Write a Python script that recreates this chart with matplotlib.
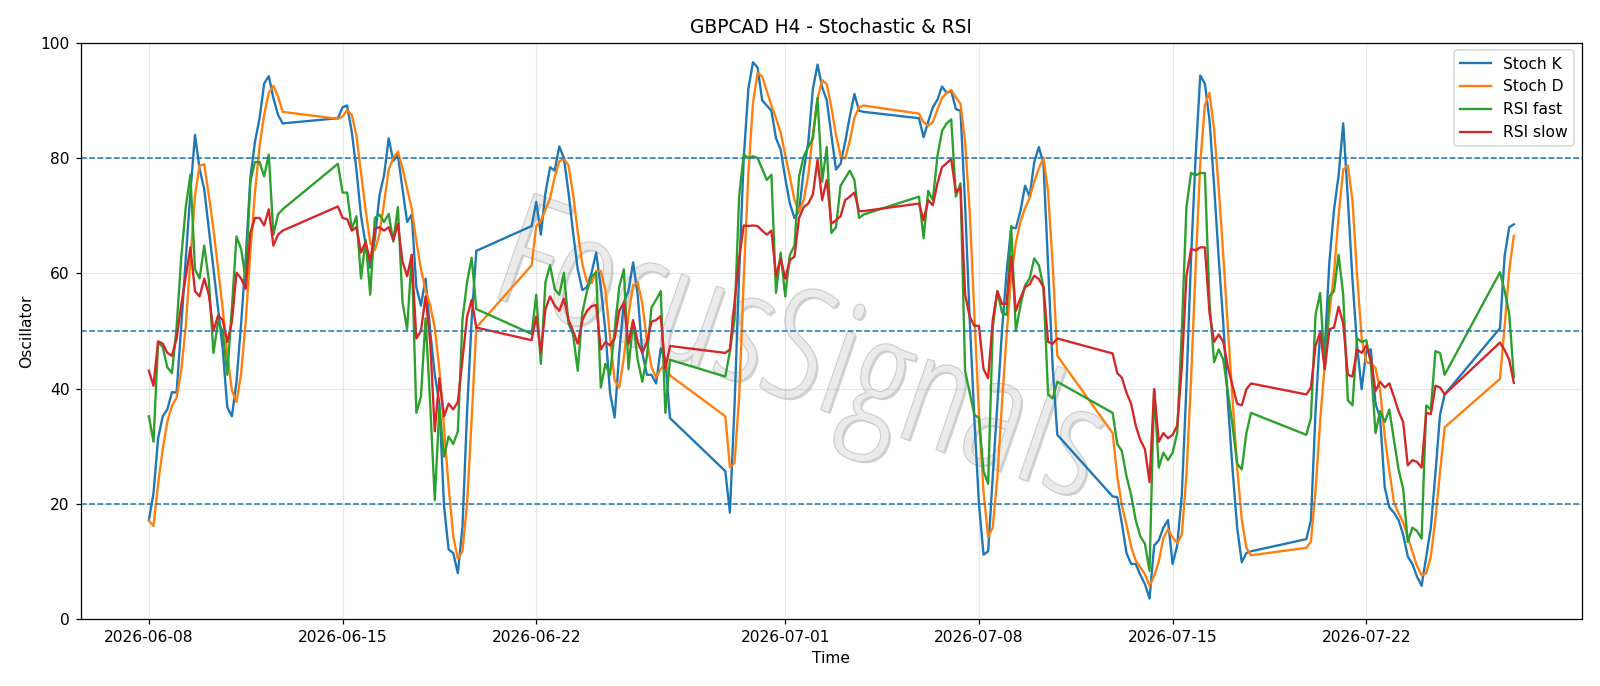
import matplotlib
matplotlib.use("Agg")
import matplotlib.pyplot as plt
import matplotlib.patheffects as pe
from matplotlib import font_manager as fm
import pandas as pd

# H4 bars: Mon-Fri plus the Sunday 20:00 opening bar
times = pd.date_range("2026-06-08 00:00", "2026-07-27 08:00", freq="4h")
times = times[(times.dayofweek < 5) | ((times.dayofweek == 6) & (times.hour == 20))]

stoch_k = [
    17.2, 21.9, 31.4, 35.2, 36.4, 39.4, 39.3, 50.6, 62.6, 74.0, 84.0, 78.1, 74.6, 67.7, 60.7,
    54.0, 47.0, 36.8, 35.2, 41.2, 51.3, 62.6, 76.5, 82.8, 86.9, 92.9, 94.2, 90.4, 87.5, 86.0,
    86.9, 88.8, 89.1, 84.5, 78.0, 70.0, 65.0, 61.0, 66.0, 73.5, 77.0, 83.4, 79.5, 80.5, 74.6, 68.9,
    70.2, 57.6, 54.4, 59.1, 50.0, 42.4, 37.4, 19.7, 12.1, 11.5, 8.0, 16.0, 36.0, 52.0, 63.9,
    68.2, 72.4, 66.7, 74.0, 78.4, 77.8, 82.0, 80.0, 74.0, 67.0, 60.7, 57.1, 57.6, 60.1, 63.6, 57.6,
    50.0, 39.3, 35.0, 46.2, 55.0, 56.9, 61.9, 56.3, 46.2, 42.4, 42.4, 40.9, 47.0, 45.0, 34.9,
    25.7, 18.5, 37.0, 60.0, 80.0, 92.0, 96.6, 95.7, 90.0, 89.1, 88.2, 83.4, 81.5, 76.5, 72.1, 69.6,
    70.8, 77.8, 82.8, 92.0, 96.2, 92.3, 90.0, 84.0, 78.0, 79.0, 82.8, 87.2, 91.1, 88.2, 88.0,
    86.9, 83.6, 86.3, 88.8, 90.1, 92.4, 91.3, 91.6, 88.5, 88.2, 72.0, 52.0, 35.0, 20.0, 11.2, 11.8,
    24.8, 37.4, 50.0, 60.1, 68.0, 67.8, 70.8, 75.2, 73.3, 79.3, 81.9, 79.0, 61.4, 43.7, 32.0,
    21.3, 21.2, 16.6, 11.5, 9.6, 9.6, 7.7, 6.1, 3.6, 12.8, 13.7, 15.9, 17.2, 9.6, 12.8, 21.6,
    40.5, 62.6, 80.3, 94.3, 92.9, 86.6, 75.2, 62.6, 51.3, 37.4, 26.0, 15.9, 9.9, 11.5, 11.8,
    13.9, 17.2, 36.0, 50.0, 47.0, 62.0, 71.0, 77.0, 86.0, 73.0, 59.0, 47.5, 39.9, 46.5, 46.8, 37.4,
    34.9, 22.9, 19.4, 18.5, 17.2, 14.7, 10.9, 9.6, 7.4, 5.8, 10.9, 15.9, 25.4, 35.5, 39.0,
    50.5, 63.0, 68.0, 68.5,
]

stoch_d = [
    17.1, 16.2, 23.5, 29.5, 34.3, 37.0, 38.4, 43.1, 50.8, 62.4, 73.5, 78.7, 78.9, 73.5, 67.7,
    60.8, 53.9, 46.0, 39.7, 37.7, 42.6, 51.7, 63.5, 74.0, 82.1, 87.5, 91.3, 92.5, 90.7, 88.0,
    86.8, 87.2, 88.3, 87.5, 83.9, 77.5, 71.0, 65.3, 64.0, 66.8, 72.2, 78.0, 80.0, 81.1, 78.2, 74.7,
    71.2, 65.6, 60.7, 57.0, 54.5, 50.5, 43.3, 33.2, 23.1, 14.4, 10.5, 11.8, 20.0, 34.7, 50.6,
    61.4, 68.2, 69.1, 71.0, 73.0, 76.7, 79.4, 79.9, 78.7, 73.7, 67.2, 61.6, 58.5, 58.3, 60.4, 60.4,
    57.1, 49.0, 41.4, 40.2, 45.4, 52.7, 57.9, 58.4, 54.8, 48.3, 43.7, 41.9, 43.4, 44.3, 42.3,
    35.2, 26.4, 27.1, 38.5, 59.0, 77.3, 89.5, 94.8, 94.1, 91.6, 89.1, 86.9, 84.4, 80.5, 76.7, 72.7,
    70.8, 72.7, 77.1, 84.2, 90.3, 93.5, 92.8, 88.8, 84.0, 80.3, 79.9, 83.0, 87.0, 88.8, 89.1,
    87.7, 86.2, 85.6, 86.2, 88.4, 90.4, 91.3, 91.8, 90.5, 89.4, 82.9, 70.7, 53.0, 35.7, 22.1, 14.3,
    15.9, 24.7, 37.4, 49.2, 59.4, 65.3, 68.9, 71.3, 73.1, 75.9, 78.2, 80.1, 74.1, 61.4, 45.7,
    32.3, 24.8, 19.7, 16.4, 12.6, 10.2, 9.0, 7.8, 5.8, 7.5, 10.0, 14.1, 15.6, 14.2, 13.2, 14.7,
    25.0, 41.6, 61.1, 79.1, 89.2, 91.3, 84.9, 74.8, 63.0, 50.4, 38.2, 26.4, 17.3, 12.4, 11.1,
    12.4, 13.5, 22.4, 34.4, 44.3, 53.0, 60.0, 70.0, 78.0, 78.7, 72.7, 59.8, 48.8, 44.6, 44.4, 43.6,
    39.7, 31.7, 25.7, 20.3, 18.4, 16.8, 14.3, 11.7, 9.3, 7.6, 8.0, 10.9, 17.4, 25.6, 33.3,
    41.7, 50.8, 60.5, 66.5,
]

rsi_fast = [
    35.2, 30.8, 48.1, 47.2, 43.7, 42.7, 50.6, 62.6, 71.5, 77.1, 60.7, 59.1, 64.8, 58.8, 46.2,
    51.6, 50.0, 42.4, 54.0, 66.4, 64.2, 59.0, 75.9, 79.3, 79.3, 76.8, 80.6, 66.7, 70.2, 71.1,
    79.0, 74.0, 74.0, 67.7, 69.9, 59.1, 65.8, 56.3, 69.6, 70.2, 68.9, 70.3, 65.5, 71.5, 55.0, 50.3,
    63.2, 35.8, 38.6, 52.2, 37.4, 20.7, 36.8, 28.2, 31.7, 30.4, 32.6, 51.9, 58.5, 62.7, 53.8,
    49.5, 56.3, 44.3, 58.5, 61.4, 57.3, 56.3, 60.1, 51.3, 49.4, 43.1, 53.2, 56.9, 59.5, 60.1, 40.2,
    44.3, 42.4, 50.0, 57.6, 60.7, 43.4, 51.6, 45.0, 41.2, 45.6, 54.1, 55.4, 56.9, 35.8, 45.0,
    42.1, 46.5, 52.0, 73.3, 80.6, 80.0, 80.3, 80.0, 78.1, 76.2, 77.1, 56.6, 63.6, 56.0, 63.2, 64.8,
    76.8, 80.3, 81.9, 83.4, 90.4, 75.9, 81.9, 67.0, 68.0, 75.2, 76.5, 77.8, 76.2, 69.6, 70.2,
    73.3, 66.1, 74.3, 72.7, 80.3, 84.7, 86.0, 86.7, 73.3, 75.6, 43.1, 39.3, 35.5, 34.9, 25.7, 23.5,
    50.6, 56.9, 53.2, 52.8, 68.2, 50.0, 54.4, 57.9, 59.1, 62.6, 61.4, 57.6, 39.0, 38.3, 41.2,
    35.8, 30.4, 29.2, 24.8, 21.6, 17.2, 14.4, 13.1, 8.4, 39.9, 26.3, 28.9, 27.6, 28.9, 32.3, 50.0,
    71.5, 77.4, 77.0, 77.4, 77.4, 55.0, 44.6, 46.8, 45.0, 39.3, 33.6, 27.0, 26.0, 32.3, 35.8,
    32.0, 34.9, 52.8, 56.6, 43.4, 56.0, 56.9, 63.2, 56.3, 38.0, 37.1, 48.7, 48.1, 48.4, 44.3, 32.3,
    36.1, 34.2, 36.4, 31.1, 26.0, 22.6, 13.4, 15.9, 15.3, 14.0, 37.1, 36.4, 46.5, 46.2, 42.4,
    60.2, 57.0, 53.0, 42.0,
]

rsi_slow = [
    43.1, 40.5, 48.2, 47.8, 46.2, 45.7, 48.7, 54.4, 59.5, 64.5, 56.9, 56.0, 59.1, 56.3, 50.0,
    52.7, 51.9, 48.1, 51.6, 60.1, 59.1, 57.3, 67.0, 69.6, 69.6, 68.3, 71.1, 64.8, 66.7, 67.4,
    71.6, 69.6, 69.4, 67.4, 68.0, 63.6, 65.5, 62.0, 67.7, 68.0, 67.4, 68.0, 65.8, 68.6, 62.0, 59.5,
    63.2, 48.7, 50.0, 56.0, 48.1, 32.6, 41.8, 35.2, 37.4, 36.4, 37.7, 45.0, 52.5, 55.4, 50.6,
    48.4, 52.5, 46.2, 53.8, 56.0, 54.4, 53.5, 55.6, 51.9, 50.0, 47.8, 51.9, 53.5, 54.3, 54.5, 46.8,
    48.1, 47.5, 48.7, 53.5, 54.9, 47.8, 51.9, 48.1, 46.2, 48.1, 51.6, 51.9, 52.6, 43.4, 47.4,
    46.2, 46.8, 55.0, 62.6, 68.3, 68.2, 68.3, 68.2, 67.4, 66.7, 67.4, 59.5, 62.6, 59.1, 62.3, 62.9,
    69.6, 71.5, 72.1, 73.7, 79.7, 72.7, 76.2, 68.6, 69.2, 69.9, 72.7, 73.3, 74.0, 70.8, 70.8,
    72.1, 69.2, 72.7, 71.8, 75.6, 78.4, 79.1, 79.8, 74.0, 74.9, 56.3, 52.5, 50.9, 50.9, 43.4, 41.8,
    51.9, 56.9, 54.7, 54.7, 62.9, 53.5, 55.7, 57.6, 58.1, 59.6, 59.0, 57.6, 48.1, 47.8, 48.7,
    46.1, 42.7, 41.9, 39.3, 37.4, 33.6, 31.1, 29.5, 23.8, 39.9, 30.8, 32.3, 31.4, 32.0, 33.6, 43.7,
    59.5, 64.2, 64.0, 64.5, 64.5, 53.2, 48.1, 49.4, 48.1, 43.7, 40.5, 37.4, 37.1, 39.9, 40.9,
    39.0, 40.2, 47.5, 49.7, 43.4, 50.3, 50.6, 54.2, 51.3, 42.4, 42.1, 46.8, 46.2, 47.5, 45.0, 39.6,
    41.2, 40.2, 40.9, 38.6, 36.1, 34.2, 26.7, 27.6, 27.3, 26.3, 35.8, 35.6, 40.5, 40.2, 39.0,
    48.0, 46.7, 45.0, 41.0,
]

levels = [80, 50, 20]


def light_font():
    # thin face for the watermark, if one is installed
    for name in ["Open Sans", "Lato", "Roboto", "Noto Sans", "Inter"]:
        for f in fm.fontManager.ttflist:
            w = f.weight if isinstance(f.weight, int) else fm.weight_dict.get(f.weight, 400)
            if f.name == name and f.style == "normal" and w <= 300:
                return fm.FontProperties(fname=f.fname)
    return fm.FontProperties(family="DejaVu Sans")


fig, ax = plt.subplots(figsize=(1600 / 112, 686 / 112), dpi=112)
fig.subplots_adjust(left=0.0504, right=0.9888, bottom=0.0972, top=0.9378)

ax.plot(times, stoch_k, label="Stoch K")
ax.plot(times, stoch_d, label="Stoch D")
ax.plot(times, rsi_fast, label="RSI fast")
ax.plot(times, rsi_slow, label="RSI slow")

for lv in levels:
    ax.axhline(lv, ls="--", lw=1)

# watermark: size it so the unrotated word is about 630 px long
fp = light_font()
fp.set_size(100)
wm = ax.text(0.478, 0.452, "FocusSignals", transform=ax.transAxes, ha="center", va="center",
             fontproperties=fp, color="#ebebeb", zorder=1)
fig.canvas.draw()
w = wm.get_window_extent().width
fp.set_size(100 * 630 / w)
wm.set_fontproperties(fp)
wm.set_rotation(-19)
wm.set_path_effects([pe.SimplePatchShadow(offset=(1.5, -1.5), shadow_rgbFace="#9a9a9a", alpha=0.45),
                     pe.Stroke(linewidth=1.5, foreground="#cdcdcd"),
                     pe.Normal()])

ax.set_ylim(0, 100)
ax.set_title("GBPCAD H4 - Stochastic & RSI")
ax.set_xlabel("Time")
ax.set_ylabel("Oscillator")
ax.grid(True, alpha=0.3)
ax.legend(loc="upper right")

fig.savefig("out.png", dpi=112)
